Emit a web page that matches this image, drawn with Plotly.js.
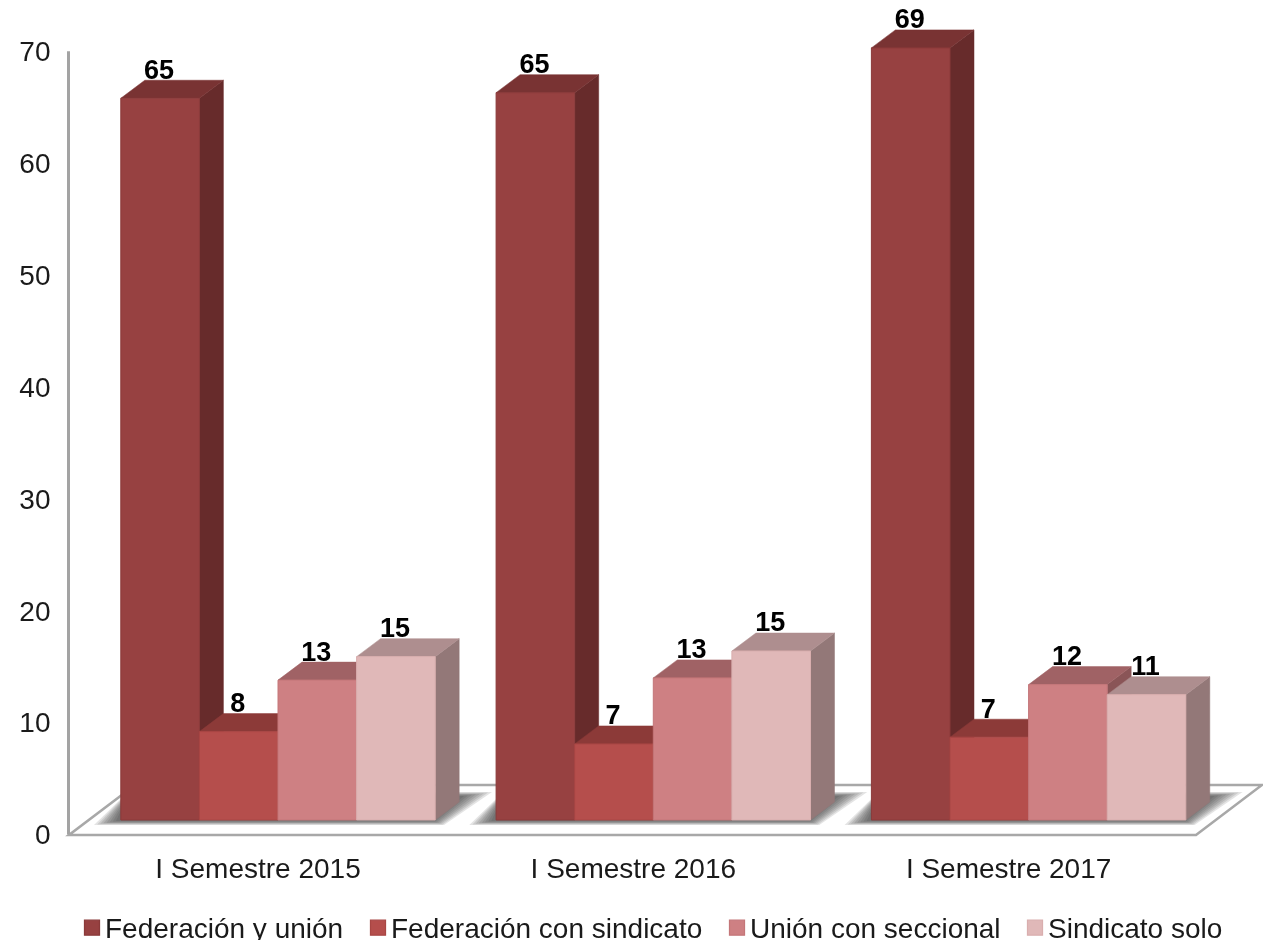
<!DOCTYPE html>
<html><head><meta charset="utf-8">
<script src="https://cdn.plot.ly/plotly-3.0.1.min.js"></script>
<style>html,body{margin:0;padding:0;background:#fff;overflow:hidden}#c{width:1263px;height:940px;filter:blur(0.45px)}</style>
</head><body><div id="c"></div>
<script>
const categories = ["I Semestre 2015", "I Semestre 2016", "I Semestre 2017"];
const seriesNames = ["Federación y unión", "Federación con sindicato", "Unión con seccional", "Sindicato solo"];
const federacionUnion = [64.5, 65.0, 69.0];
const federacionSindicato = [7.9, 6.8, 7.4];
const unionSeccional = [12.5, 12.7, 12.1];
const sindicatoSolo = [14.6, 15.1, 11.2];
const yTicks = [0, 10, 20, 30, 40, 50, 60, 70];
const frontColors = ["#974141", "#B54E4C", "#CE8083", "#E0B8B8"];
const sideColors = ["#672B2B", "#7E3635", "#8A5557", "#937878"];
const topColors = ["#793333", "#8C3A38", "#A06265", "#AE8E8F"];
const lineColors = ["#8A3A3A", "#A84644", "#C47679", "#D9AEAE"];
const legendX = [65, 351, 710, 1008];

const series = [federacionUnion, federacionSindicato, unionSeccional, sindicatoSolo];
const W = 1263, H = 940, CAT = 375.3, UNIT = 11.19;
const BAR = 78.6 / CAT, DX = 24 / CAT, DY = 18 / UNIT, LABEL_DY = 26.3 / UNIT, LABEL_DX = 1 / CAT;
const xIdx = categories.map((_, i) => i);
const xr = (c) => [-c / CAT, (W - c) / CAT];
const yr = (z) => [(z - H) / UNIT, z / UNIT];
const px = (x) => x / W, py = (y) => 1 - y / H;
const path = (pts) => "M" + pts.map(p => px(p[0]) + "," + py(p[1])).join("L") + "Z";

const traces = [];
traces.push({x: [(68.5 - 258) / CAT, (68.5 - 258) / CAT], y: [0, 70], xaxis: "x", yaxis: "y", mode: "lines",
  line: {color: "#a3a3a3", width: 3}, showlegend: false, hoverinfo: "skip"});
series.forEach((vals, j) => {
  vals.forEach((v, i) => {
    const l = i + (j - 2) * BAR, r = l + BAR;
    traces.push({x: [r, r + DX, r + DX, r, r], y: [0, DY, v + DY, v, 0], xaxis: "x2", yaxis: "y2", mode: "lines",
      fill: "toself", fillcolor: sideColors[j], line: {color: sideColors[j], width: 0.5}, showlegend: false, hoverinfo: "skip"});
    traces.push({x: [l, l + DX, r + DX, r, l], y: [v, v + DY, v + DY, v, v], xaxis: "x2", yaxis: "y2", mode: "lines",
      fill: "toself", fillcolor: topColors[j], line: {color: topColors[j], width: 0.5}, showlegend: false, hoverinfo: "skip"});
  });
});
series.forEach((vals, j) => {
  traces.push({type: "bar", name: seriesNames[j], x: xIdx, y: vals, xaxis: "x3", yaxis: "y3",
    marker: {color: frontColors[j], line: {color: lineColors[j], width: 1}},
    legend: j === 0 ? "legend" : "legend" + (j + 1), hoverinfo: "skip"});
});
series.forEach((vals, j) => {
  traces.push({x: xIdx.map(i => i + (j - 1.5) * BAR - LABEL_DX), y: vals.map(v => v + LABEL_DY),
    text: vals.map(v => String(Math.round(v))), xaxis: "x3", yaxis: "y3", mode: "text", textposition: "middle center",
    textfont: {family: "Liberation Sans, Arial, sans-serif", size: 27, color: "#000", weight: 700}, cliponaxis: false,
    showlegend: false, hoverinfo: "skip"});
});

const shapes = [];
shapes.push({type: "path", xref: "paper", yref: "paper", layer: "below", fillcolor: "#fff",
  line: {color: "#a8a8a8", width: 2.6},
  path: path([[69, 835], [1196, 835], [1262, 785], [135, 785]])});
xIdx.forEach(i => {
  const left = 120 + i * CAT, right = left + 316;
  const n = 8;
  for (let k = 0; k < n; k++) {
    const t = k / (n - 1);
    shapes.push({type: "path", xref: "paper", yref: "paper", layer: "below", fillcolor: "rgba(50,50,50,0.135)",
      line: {width: 0},
      path: path([[left - 26 + 22 * t, 825 - 4 * t], [right + 8 - 10 * t, 825 - 4 * t],
                  [right + 56 - 28 * t, 792 + 4 * t], [left + 8, 792 + 4 * t]])});
  }
});

const legendBase = (j) => ({x: px(legendX[j]), xanchor: "left", y: py(902), yanchor: "top", xref: "container", yref: "container",
  orientation: "h", bgcolor: "rgba(0,0,0,0)", font: {family: "Liberation Sans, Arial, sans-serif", size: 28, color: "#1a1a1a"},
  itemclick: false, itemdoubleclick: false});
const tickFont = {family: "Liberation Sans, Arial, sans-serif", size: 28, color: "#1a1a1a"};
const layout = {
  width: W, height: H, margin: {l: 0, r: 0, t: 0, b: 0, autoexpand: false}, paper_bgcolor: "#fff", plot_bgcolor: "rgba(0,0,0,0)",
  showlegend: true, barmode: "group", bargap: 1 - 4 * BAR, bargroupgap: 0, shapes,
  legend: legendBase(0), legend2: legendBase(1), legend3: legendBase(2), legend4: legendBase(3),
  xaxis: {domain: [0, 1], range: xr(258), tickvals: xIdx, ticktext: categories, tickfont: tickFont, showgrid: false,
    zeroline: false, showline: false, ticks: "", anchor: "free", position: py(834.5), ticklabelstandoff: 14, automargin: false},
  yaxis: {domain: [0, 1], range: yr(834.5), tickvals: yTicks, tickfont: tickFont, showgrid: false, zeroline: false,
    showline: false, ticks: "", anchor: "free", position: 68.5 / W, ticklabelstandoff: 18, automargin: false},
  xaxis2: {overlaying: "x", range: xr(278), visible: false, anchor: "y2"},
  yaxis2: {overlaying: "y", range: yr(820), visible: false, anchor: "x2"},
  xaxis3: {overlaying: "x", range: xr(278), visible: false, anchor: "y3"},
  yaxis3: {overlaying: "y", range: yr(820), visible: false, anchor: "x3"}
};
Plotly.newPlot("c", traces, layout, {staticPlot: true, displayModeBar: false}).then(() => {
  document.querySelectorAll(".legendpoints path").forEach(p => {
    const t = p.getAttribute("transform") || "";
    p.setAttribute("transform", t + " translate(7,1) scale(1.25)");
  });
});
</script></body></html>
